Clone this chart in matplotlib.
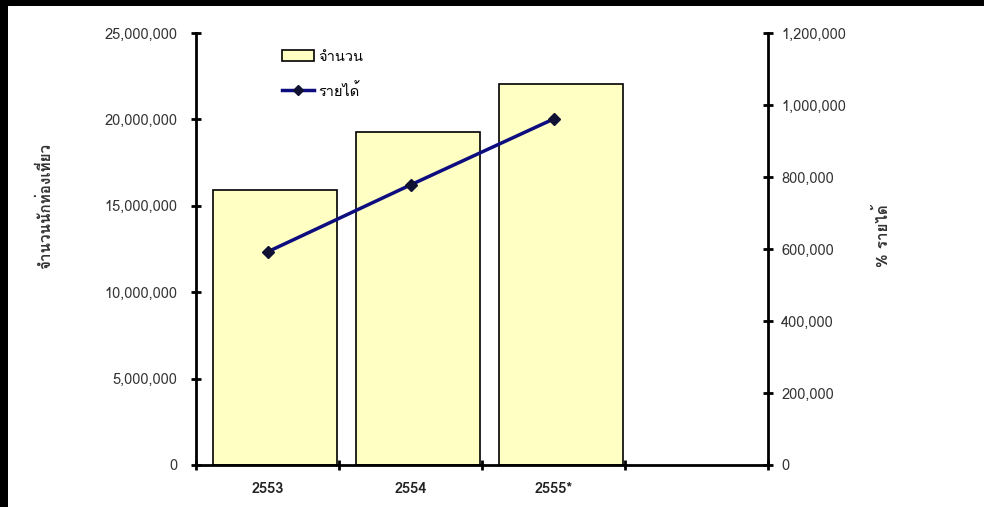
import matplotlib
matplotlib.use("Agg")
import matplotlib.pyplot as plt
import matplotlib.font_manager as fm
from matplotlib.ticker import FuncFormatter, FixedLocator
from matplotlib.lines import Line2D
from matplotlib.patches import Patch
from fontTools.ttLib import TTFont

# data
years = ["2553", "2554", "2555*"]
tourists = [15900000, 19270000, 22050000]
income = [592000, 778000, 961000]

# find an installed font that has Thai glyphs
thai_font = None
for f in fm.fontManager.ttflist:
    try:
        cmap = TTFont(f.fname, fontNumber=0, lazy=True).getBestCmap()
    except Exception:
        continue
    if cmap and 0x0E08 in cmap and 0x0E22 in cmap:
        thai_font = f.name
        break
fams = [thai_font, "Liberation Sans", "DejaVu Sans"] if thai_font else ["Liberation Sans", "DejaVu Sans"]
plt.rcParams["font.family"] = fams

fig = plt.figure(figsize=(9.84, 5.07), dpi=100)
fig.patch.set_facecolor("black")
bg = fig.add_axes([8 / 984, 0, 1, 1 - 6 / 507])
bg.set_axis_off()
bg.add_patch(plt.Rectangle((0, 0), 1, 1, transform=bg.transAxes, color="white"))

ax = fig.add_axes([196 / 984, 1 - 465 / 507, 572 / 984, 432 / 507])
ax.set_facecolor("none")
ax2 = ax.twinx()

x = list(range(len(years)))
ax.bar([i + 0.052 for i in x], tourists, width=0.867, color="#FFFFC4",
       edgecolor="black", linewidth=1.2, zorder=2)
ax2.plot(x, income, color="#0D0D80", linewidth=2.5, marker="D", markersize=6,
         markerfacecolor="#111133", markeredgecolor="#111133", zorder=3)

ax.set_xlim(-0.5, 3.5)
ax.set_ylim(0, 25000000)
ax2.set_ylim(0, 1200000)

ax.set_yticks(range(0, 25000001, 5000000))
ax2.set_yticks(range(0, 1200001, 200000))
fmt = FuncFormatter(lambda v, p: f"{int(v):,}")
ax.yaxis.set_major_formatter(fmt)
ax2.yaxis.set_major_formatter(fmt)

ax.xaxis.set_major_locator(FixedLocator([-0.5, 0.5, 1.5, 2.5, 3.5]))
ax.set_xticklabels([])
for i, y in zip(x, years):
    ax.text(i, -0.055, y, transform=ax.get_xaxis_transform(), ha="center", va="center",
            fontsize=10.5, fontweight="bold", color="#222222")

for a in (ax, ax2):
    a.spines["top"].set_visible(False)
    for s in ("left", "right", "bottom"):
        a.spines[s].set_linewidth(2)
        a.spines[s].set_color("black")
    a.tick_params(direction="inout", length=7, width=2, labelsize=10.5, labelcolor="#333333")
ax.spines["right"].set_visible(False)
ax2.spines["left"].set_visible(False)
ax2.spines["bottom"].set_visible(False)
ax.tick_params(axis="y", pad=10)
ax2.tick_params(axis="y", pad=6)

ax.set_ylabel("จำนวนนักท่องเที่ยว", fontsize=11, fontweight="bold", color="#333333")
ax2.set_ylabel("% รายได้", fontsize=11, fontweight="bold", color="#333333")
ax.yaxis.set_label_coords(-143 / 572, 0.60)
ax2.yaxis.set_label_coords(1 + 106 / 572, 0.53)

handles = [Patch(facecolor="#FFFFC4", edgecolor="black", linewidth=1.2),
           Line2D([], [], color="#0D0D80", linewidth=2.5, marker="D", markersize=5,
                  markerfacecolor="#111133", markeredgecolor="#111133")]
leg = ax2.legend(handles, ["จำนวน", "รายได้"], loc="upper left", bbox_to_anchor=(0.14, 0.975),
                 frameon=False, fontsize=10.5, handlelength=2.2, handletextpad=0.3,
                 labelspacing=1.3, borderaxespad=0)

fig.savefig("out.png", dpi=100, facecolor="black")
